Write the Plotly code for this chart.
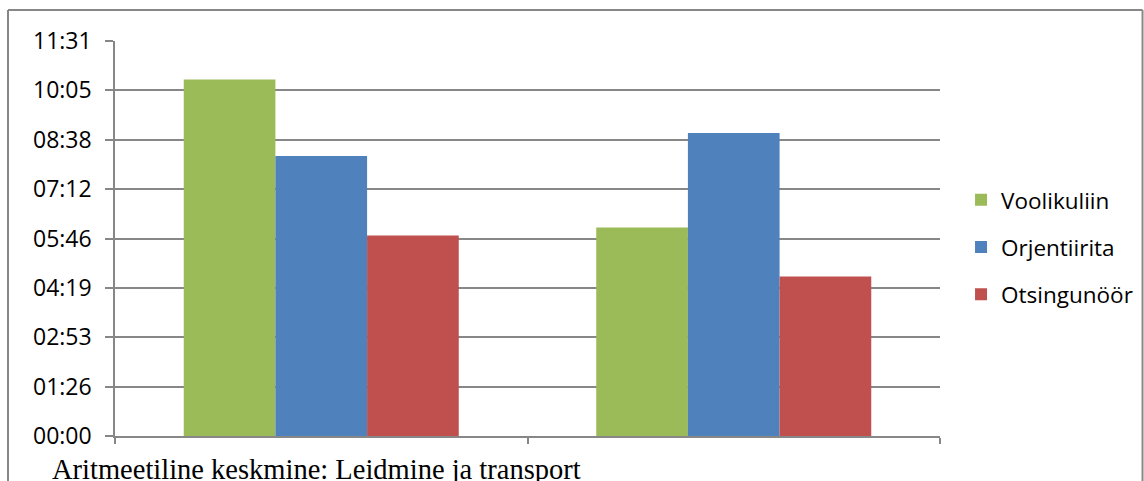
import plotly.graph_objects as go

# Mean times (mm:ss) per task phase and method
categories = ["Leidmine", "Transport"]
series_names = ["Voolikuliin", "Orjentiirita", "Otsingunöör"]
voolikuliin = ["10:24", "06:05"]
orjentiirita = ["08:10", "08:50"]
otsingunoor = ["05:51", "04:39"]
series_colors = ["#9BBB59", "#4F81BD", "#C0504D"]

# Axis ticks every 0.001 day (86.4 s), labelled the way the spreadsheet rounds them
tick_seconds = [0, 86.4, 172.8, 259.2, 345.6, 432.0, 518.4, 604.8, 691.2]
tick_labels = ["00:00", "01:26", "02:53", "04:19", "05:46", "07:12", "08:38", "10:05", "11:31"]

caption = "Aritmeetiline keskmine: Leidmine ja transport"


def to_seconds(mmss):
    m, s = mmss.split(":")
    return int(m) * 60 + int(s)


fig = go.Figure()
for name, vals, color in zip(series_names, [voolikuliin, orjentiirita, otsingunoor], series_colors):
    fig.add_trace(go.Bar(
        x=categories,
        y=[to_seconds(v) for v in vals],
        name=name,
        legendgroup=name,
        marker=dict(color=color, line=dict(width=0)),
        customdata=vals,
        hovertemplate="%{customdata}<extra>" + name + "</extra>",
    ))

grid_color = "#878787"

fig.update_layout(
    width=1144,
    height=481,
    margin=dict(l=115, r=204, t=41, b=45, autoexpand=False),
    paper_bgcolor="white",
    plot_bgcolor="white",
    barmode="group",
    bargap=0.3333,
    bargroupgap=0,
    font=dict(family="Open Sans, sans-serif", size=21, color="#000000"),
    showlegend=True,
    legend=dict(
        x=1.0255, y=0.478, xanchor="left", yanchor="middle",
        traceorder="grouped", tracegroupgap=15,
        font=dict(family="Open Sans, sans-serif", size=22.5, color="#000000"),
        bgcolor="rgba(0,0,0,0)",
    ),
    xaxis=dict(
        type="category",
        showticklabels=False,
        ticks="outside",
        tickson="boundaries",
        ticklen=6,
        tickwidth=1.5,
        tickcolor=grid_color,
        showline=True,
        linecolor=grid_color,
        linewidth=1.5,
        showgrid=False,
        zeroline=False,
    ),
    yaxis=dict(
        range=[0, 691.2],
        tickvals=tick_seconds,
        ticktext=tick_labels,
        ticks="outside",
        ticklen=8,
        tickwidth=1.5,
        tickcolor=grid_color,
        ticklabelstandoff=9,
        showgrid=True,
        gridcolor=grid_color,
        gridwidth=1.5,
        showline=True,
        linecolor=grid_color,
        linewidth=1.5,
        zeroline=False,
        tickfont=dict(family="Open Sans, sans-serif", size=23, color="#000000"),
    ),
)

# Outer chart frame (runs off the bottom of the page)
frame_color = "#878787"
for x0, y0, x1, y1 in [(-0.1297, 1.0785, 1.2455, 1.0785),
                       (-0.1297, 1.0785, -0.1297, -0.3),
                       (1.2455, 1.0785, 1.2455, -0.3)]:
    fig.add_shape(type="line", xref="paper", yref="paper", x0=x0, y0=y0, x1=x1, y1=y1,
                  line=dict(color=frame_color, width=2))

fig.add_annotation(
    text=caption, xref="paper", yref="paper",
    x=-0.0788, y=-0.086, xanchor="left", yanchor="middle",
    showarrow=False,
    font=dict(family="Liberation Serif, Times New Roman, serif", size=28.5, color="#000000"),
)

fig.write_html("out.html")
